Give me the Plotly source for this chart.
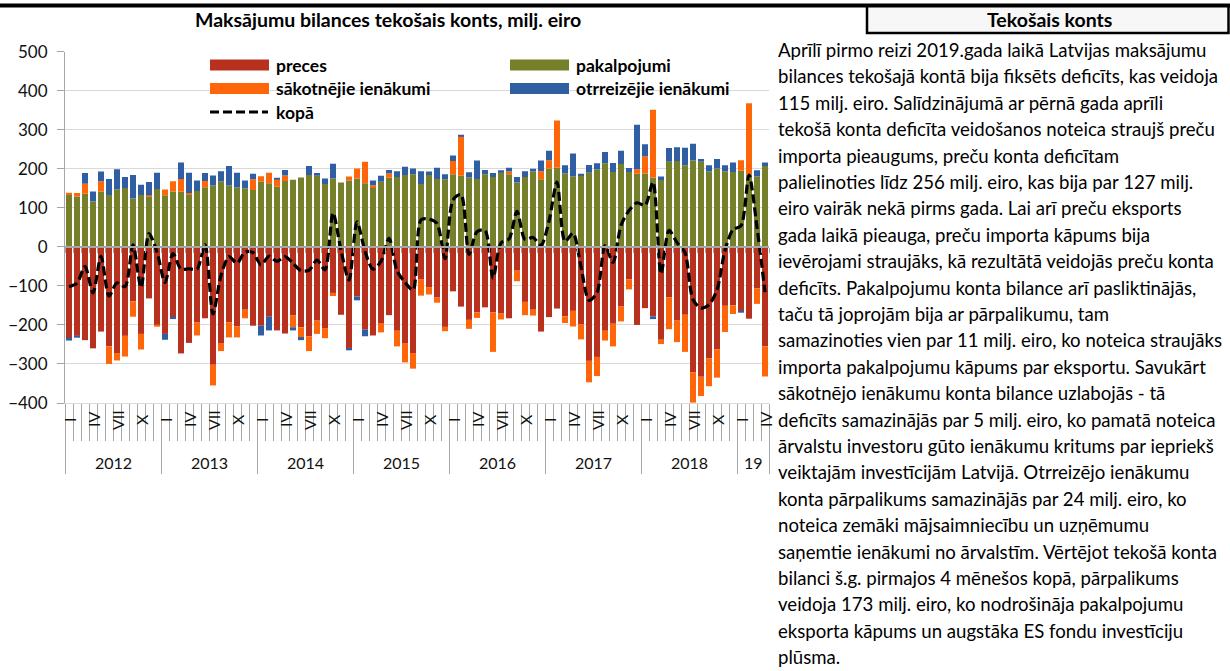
import plotly.graph_objects as go

# --- data (milj. eiro), monthly Jan 2012 .. Apr 2019 ---
years = ["2012", "2013", "2014", "2015", "2016", "2017", "2018", "19"]
months_per_year = [12, 12, 12, 12, 12, 12, 12, 4]
roman = ["I", "", "", "IV", "", "", "VII", "", "", "X", "", ""]

preces = [
    -235, -228, -239, -260, -217, -255, -272, -228, -140, -223, -132, -200,
    -223, -181, -273, -246, -194, -183, -302, -248, -193, -204, -161, -202,
    -202, -179, -214, -222, -176, -206, -229, -189, -208, -118, -174, -259,
    -127, -212, -227, -195, -175, -215, -248, -272, -84, -103, -130, -205,
    -114, -153, -187, -168, -155, -168, -171, -183, -61, -141, -161, -217,
    -180, -158, -178, -164, -199, -292, -282, -215, -197, -153, -83, -200,
    -157, -178, -238, -129, -189, -174, -321, -333, -286, -263, -151, -150,
    -165, -184, -106, -255,
]
pakalpojumi = [
    135, 129, 136, 116, 142, 133, 147, 151, 124, 133, 129, 148,
    132, 142, 142, 135, 143, 153, 157, 168, 158, 152, 150, 146,
    167, 163, 154, 169, 172, 178, 184, 182, 161, 175, 165, 170,
    175, 163, 154, 167, 177, 179, 184, 186, 161, 184, 174, 173,
    186, 182, 178, 174, 186, 179, 191, 186, 165, 179, 193, 173,
    200, 203, 188, 181, 184, 190, 198, 214, 192, 212, 192, 187,
    188, 178, 171, 218, 220, 209, 221, 218, 193, 201, 193, 192,
    195, 186, 180, 207,
]
sakotnejie = [
    3, 9, 26, 0, 26, -45, -19, -53, -39, -40, 3, -3,
    15, 26, 32, 3, -33, 16, -53, -19, -39, -28, -22, 27,
    14, 27, 19, 14, -30, -25, -38, -34, -26, -8, 0, 10,
    26, 55, 4, -24, 11, -40, -48, -40, -41, -19, -13, -11,
    34, 102, -23, -14, 0, -101, -15, 7, -27, -34, -15, 21,
    22, 121, -17, -40, -38, -55, -49, -25, -58, -38, -26, 12,
    44, 173, -11, -82, -55, -95, -78, -49, -71, -72, -67, -22,
    27, 182, -40, -77,
]
otrreizejie = [
    -5, -3, 27, 26, 25, 41, 52, 28, 60, 26, 34, 42,
    -15, -4, 42, 52, 27, 20, 26, 26, 49, 38, 20, 14,
    -25, -35, 4, 14, -8, -8, 23, 7, 14, 38, 0, -6,
    -10, -17, 12, 15, 9, 15, 21, 15, 33, 9, 29, 13,
    14, 3, 13, 47, 11, 10, 5, 10, 14, 15, 7, 27,
    24, 0, 21, 58, 2, 20, 16, 29, 23, 34, 10, 114,
    31, -7, 9, 35, 35, 45, 43, 7, 16, 24, 16, 24,
    -3, 0, 16, 9,
]
kopa = [
    -102, -93, -50, -118, -24, -126, -92, -102, 5, -104, 34, -13,
    -91, -17, -57, -56, -57, 6, -172, -73, -25, -42, -13, -15,
    -46, -24, -37, -25, -42, -61, -60, -34, -59, 87, -9, -85,
    64, -11, -57, -37, 22, -61, -91, -111, 69, 71, 60, -30,
    120, 134, -19, 39, 42, -80, 10, 20, 91, 19, 24, 4,
    66, 166, 14, 35, -51, -137, -117, 3, -40, 55, 93, 113,
    106, 166, -69, 42, 11, -15, -135, -157, -148, -110, -9, 44,
    54, 184, 50, -116,
]

text_lines = [
    "Aprīlī pirmo reizi 2019.gada laikā Latvijas maksājumu",
    "bilances tekošajā kontā bija fiksēts deficīts, kas veidoja",
    "115 milj. eiro. Salīdzinājumā ar pērnā gada aprīli",
    "tekošā konta deficīta veidošanos noteica straujš preču",
    "importa pieaugums, preču konta deficītam",
    "palielinoties līdz 256 milj. eiro, kas bija par 127 milj.",
    "eiro vairāk nekā pirms gada. Lai arī preču eksports",
    "gada laikā pieauga, preču importa kāpums bija",
    "ievērojami straujāks, kā rezultātā veidojās preču konta",
    "deficīts. Pakalpojumu konta bilance arī pasliktinājās,",
    "taču tā joprojām bija ar pārpalikumu, tam",
    "samazinoties vien par 11 milj. eiro, ko noteica straujāks",
    "importa pakalpojumu kāpums par eksportu. Savukārt",
    "sākotnējo ienākumu konta bilance uzlabojās - tā",
    "deficīts samazinājās par 5 milj. eiro, ko pamatā noteica",
    "ārvalstu investoru gūto ienākumu kritums par iepriekš",
    "veiktajām investīcijām Latvijā. Otrreizējo ienākumu",
    "konta pārpalikums samazinājās par 24 milj. eiro, ko",
    "noteica zemāki mājsaimniecību un uzņēmumu",
    "saņemtie ienākumi no ārvalstīm. Vērtējot tekošā konta",
    "bilanci š.g. pirmajos 4 mēnešos kopā, pārpalikums",
    "veidoja 173 milj. eiro, ko nodrošināja pakalpojumu",
    "eksporta kāpums un augstāka ES fondu investīciju",
    "plūsma.",
]

W, H = 1230, 671
FONT = "Lato"
C_RED, C_GREEN, C_ORANGE, C_BLUE = "#B8301E", "#76802A", "#FF660A", "#2F5EA3"
TXT = "#111111"


def px(x):
    return x / W


def py(y):
    return 1 - y / H


n = len(preces)
idx = list(range(n))
y_dom = [py(403), py(51.7)]
zero_pos = y_dom[0] + (y_dom[1] - y_dom[0]) * 400 / 900
x_range = [-0.5, n - 0.5]

fig = go.Figure()
for name, vals, col in [
    ("preces", preces, C_RED),
    ("pakalpojumi", pakalpojumi, C_GREEN),
    ("sākotnējie ienākumi", sakotnejie, C_ORANGE),
    ("otrreizējie ienākumi", otrreizejie, C_BLUE),
]:
    fig.add_trace(go.Bar(x=idx, y=vals, name=name, marker_color=col,
                         marker_line_width=0))
fig.add_trace(go.Scatter(
    x=idx, y=kopa, name="kopā", mode="lines",
    line=dict(color="black", width=3.2, dash="9px,4px", shape="spline",
              smoothing=0.8),
))

# month / year boundaries for the tick marks
bounds = [k - 0.5 for k in range(n + 1)]
year_bounds = [-0.5]
for m in months_per_year:
    year_bounds.append(year_bounds[-1] + m)

axis_grey = "#A6A6A6"
fig.update_layout(
    width=W, height=H,
    margin=dict(l=0, r=0, t=0, b=0, autoexpand=False),
    paper_bgcolor="white", plot_bgcolor="white",
    barmode="relative", bargap=0.25,
    showlegend=False,
    font=dict(family=FONT, color=TXT),
    xaxis=dict(domain=[px(65), px(769)], range=x_range, showgrid=False,
               zeroline=False, showticklabels=False, ticks="",
               showline=True, linecolor="#D9D9D9", linewidth=1),
    xaxis2=dict(overlaying="x", anchor="y", range=x_range, tickvals=bounds,
                ticks="outside", ticklen=37, tickcolor=axis_grey, tickwidth=1,
                showticklabels=False, showgrid=False, zeroline=False),
    xaxis3=dict(overlaying="x", anchor="y", range=x_range, tickvals=year_bounds,
                ticks="outside", ticklen=70, tickcolor=axis_grey, tickwidth=1,
                showticklabels=False, showgrid=False, zeroline=False),
    xaxis4=dict(overlaying="x", anchor="free", position=zero_pos, range=x_range,
                tickvals=bounds, ticks="outside", ticklen=5, tickcolor=axis_grey,
                showline=True, linecolor=axis_grey, linewidth=2,
                showticklabels=False, showgrid=False, zeroline=False),
    yaxis=dict(domain=y_dom, range=[-400, 500], dtick=100, tick0=0,
               showgrid=True, gridcolor="#D9D9D9", gridwidth=1,
               zeroline=False, showline=True, linecolor=axis_grey,
               ticks="outside", ticklen=7, tickcolor=axis_grey,
               ticklabelstandoff=6, automargin=False,
               tickfont=dict(size=17, color=TXT)),
)
# dummy traces so the overlay axes are drawn
for ax in ["x2", "x3", "x4"]:
    fig.add_trace(go.Scatter(x=[None], y=[None], xaxis=ax, yaxis="y",
                             hoverinfo="skip", showlegend=False))

ann = []
# month labels (rotated) and year labels
k = 0
for yr, m in zip(years, months_per_year):
    for j in range(m):
        if roman[j]:
            ann.append(dict(x=k + j, y=py(420), xref="x", yref="paper",
                            text=roman[j], textangle=-90, showarrow=False,
                            xanchor="center", yanchor="middle",
                            font=dict(size=16, color=TXT)))
    ann.append(dict(x=k + (m - 1) / 2, y=py(462), xref="x", yref="paper",
                    text=yr, showarrow=False, xanchor="center", yanchor="middle",
                    font=dict(size=16, color=TXT)))
    k += m

# titles
ann.append(dict(x=px(388), y=py(19), xref="paper", yref="paper",
                text="<b>Maksājumu bilances tekošais konts, milj. eiro</b>",
                xanchor="center", yanchor="middle", showarrow=False,
                font=dict(size=19.5, color="black")))
ann.append(dict(x=px(1049), y=py(19.5), xref="paper", yref="paper",
                text="<b>Tekošais konts</b>", showarrow=False,
                xanchor="center", yanchor="middle",
                font=dict(size=19.5, color="black")))

# paragraph
for i, line in enumerate(text_lines):
    ann.append(dict(x=px(776), y=py(50 + i * 26.4), xref="paper", yref="paper",
                    text=line, xanchor="left", yanchor="middle", showarrow=False,
                    font=dict(size=18.6, color="black")))

# manual legend (wide swatches like the original)
shapes = []
legend_items = [
    ("preces", C_RED, 210, 65),
    ("pakalpojumi", C_GREEN, 510, 65),
    ("sākotnējie ienākumi", C_ORANGE, 210, 88.5),
    ("otrreizējie ienākumi", C_BLUE, 510, 88.5),
]
for label, col, lx, ly in legend_items:
    shapes.append(dict(type="rect", xref="paper", yref="paper",
                       x0=px(lx), x1=px(lx + 59), y0=py(ly + 5.5), y1=py(ly - 5.5),
                       fillcolor=col, line_width=0))
    ann.append(dict(x=px(lx + 64), y=py(ly), xref="paper", yref="paper",
                    text=f"<b>{label}</b>", xanchor="left", yanchor="middle",
                    showarrow=False, font=dict(size=17.5, color="black")))
shapes.append(dict(type="line", xref="paper", yref="paper",
                   x0=px(210), x1=px(268), y0=py(112), y1=py(112),
                   line=dict(color="black", width=3.2, dash="9px,4px")))
ann.append(dict(x=px(274), y=py(112), xref="paper", yref="paper",
                text="<b>kopā</b>", xanchor="left", yanchor="middle",
                showarrow=False, font=dict(size=17.5, color="black")))

# header rule and box
shapes.append(dict(type="rect", xref="paper", yref="paper",
                   x0=px(867), x1=px(1228.5), y0=py(33), y1=py(5.5),
                   fillcolor="#F7F7F7", line=dict(color="black", width=2.5),
                   layer="below"))
shapes.append(dict(type="line", xref="paper", yref="paper",
                   x0=0, x1=1, y0=py(5.5), y1=py(5.5),
                   line=dict(color="black", width=4)))

fig.update_layout(annotations=ann, shapes=shapes)

# remove default page margin so the figure sits at the page corner
no_margin = ("document.body.style.margin='0';"
             "document.documentElement.style.overflow='hidden';")
fig.write_html("out.html", post_script=no_margin,
               config={"displayModeBar": False})
